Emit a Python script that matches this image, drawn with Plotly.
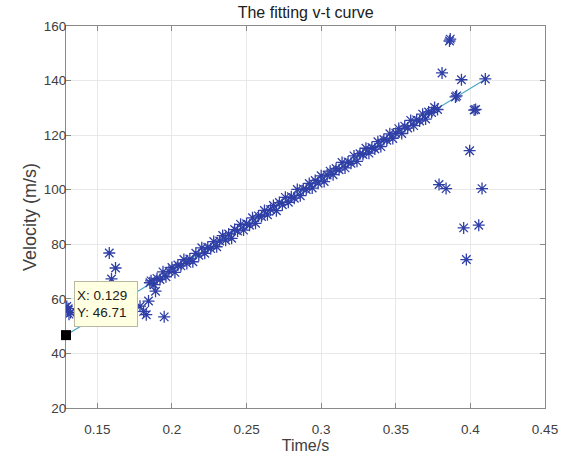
import plotly.graph_objects as go

# main band of measured points (time s, velocity m/s)
band_t = [0.186, 0.188, 0.190, 0.192, 0.194, 0.196, 0.198, 0.200, 0.202, 0.204,
          0.206, 0.208, 0.210, 0.212, 0.214, 0.216, 0.218, 0.220, 0.222, 0.224,
          0.226, 0.228, 0.230, 0.232, 0.234, 0.236, 0.238, 0.240, 0.242, 0.244,
          0.246, 0.248, 0.250, 0.252, 0.254, 0.256, 0.258, 0.260, 0.262, 0.264,
          0.266, 0.268, 0.270, 0.272, 0.274, 0.276, 0.278, 0.280, 0.282, 0.284,
          0.286, 0.288, 0.290, 0.292, 0.294, 0.296, 0.298, 0.300, 0.302, 0.304,
          0.306, 0.308, 0.310, 0.312, 0.314, 0.316, 0.318, 0.320, 0.322, 0.324,
          0.326, 0.328, 0.330, 0.332, 0.334, 0.336, 0.338, 0.340, 0.342, 0.344,
          0.346, 0.348, 0.350, 0.352, 0.354, 0.356, 0.358, 0.360, 0.362, 0.364,
          0.366, 0.368, 0.370, 0.372, 0.374, 0.376, 0.378]
band_v = [66.6, 65.2, 67.5, 67.1, 69.9, 68.1, 70.1, 71.5, 69.7, 72.4,
          72.1, 74.4, 73.0, 74.6, 73.6, 76.7, 76.0, 78.7, 76.7, 78.9,
          78.4, 81.0, 79.1, 81.2, 83.2, 81.5, 83.8, 82.2, 85.4, 84.9,
          87.3, 85.2, 87.5, 87.0, 89.7, 87.7, 90.4, 90.2, 92.4, 90.8,
          92.7, 94.2, 92.3, 95.3, 94.5, 97.2, 95.4, 97.4, 96.9, 100.1,
          97.8, 100.3, 100.1, 102.3, 100.6, 103.4, 102.4, 105.1, 103.0, 105.4,
          106.8, 105.5, 107.8, 107.3, 110.0, 108.0, 110.2, 109.7, 112.4, 110.4,
          113.2, 112.9, 115.2, 113.4, 115.5, 114.9, 117.6, 115.8, 118.4, 118.1,
          120.5, 118.8, 120.7, 122.4, 120.6, 123.3, 122.6, 125.4, 123.5, 125.6,
          125.2, 127.7, 125.9, 128.5, 128.3, 130.1, 129.4]

# scattered points at start and end
out_t = [0.1295, 0.1300, 0.1310, 0.1305, 0.1320,
         0.1580, 0.1622, 0.1595,
         0.1786, 0.1843, 0.1828, 0.1810, 0.1890, 0.1852, 0.1948,
         0.3860, 0.3865, 0.3810, 0.3940, 0.4100, 0.3900, 0.3908,
         0.4025, 0.4035, 0.3995, 0.3790, 0.3837, 0.4078, 0.3955,
         0.4056, 0.3973]
out_v = [57.2, 55.6, 54.4, 56.4, 55.0,
         76.8, 71.3, 67.3,
         57.3, 59.2, 54.2, 55.4, 62.8, 65.9, 53.4,
         154.5, 155.2, 142.8, 140.3, 140.6, 134.0, 134.4,
         129.2, 129.4, 114.3, 101.9, 100.4, 100.4, 86.0,
         87.0, 74.4]

# fitted line end points
fit_t = [0.129, 0.410]
fit_v = [46.71, 140.5]

tip_t = 0.129
tip_v = 46.71

x_ticks = [0.15, 0.2, 0.25, 0.3, 0.35, 0.4, 0.45]
x_tick_text = ["0.15", "0.2", "0.25", "0.3", "0.35", "0.4", "0.45"]
y_ticks = [20, 40, 60, 80, 100, 120, 140, 160]

star_color = "#2f3fa6"
font_fam = "Liberation Sans, Arial, sans-serif"

fig = go.Figure()
fig.add_trace(go.Scatter(
    x=fit_t, y=fit_v, mode="lines",
    line=dict(color="#4da6c9", width=1.2), hoverinfo="skip"))
fig.add_trace(go.Scatter(
    x=band_t + out_t, y=band_v + out_v, mode="markers",
    marker=dict(symbol="asterisk-open", size=10, color=star_color,
                line=dict(color=star_color, width=1.3)),
    hoverinfo="skip"))
fig.add_trace(go.Scatter(
    x=[tip_t], y=[tip_v], mode="markers", cliponaxis=False,
    marker=dict(symbol="square", size=10, color="black",
                line=dict(width=0)),
    hoverinfo="skip"))

fig.add_annotation(
    x=tip_t, y=tip_v, xref="x", yref="y",
    text="X: 0.129<br>Y: 46.71", showarrow=False,
    xanchor="left", yanchor="bottom", xshift=8, yshift=8,
    align="left", width=58, height=40, borderpad=2,
    bgcolor="#ffffe1", bordercolor="#b8b8a0", borderwidth=1,
    font=dict(family=font_fam, size=13.5, color="#202020"))

axis_common = dict(
    showgrid=True, gridcolor="#e8e8e8", gridwidth=1,
    showline=True, linecolor="#8a8a8a", linewidth=1, mirror="ticks",
    ticks="inside", ticklen=5, tickcolor="#8a8a8a", zeroline=False,
    layer="below traces", automargin=False,
    tickfont=dict(family=font_fam, size=13.5, color="#404040"))

fig.update_xaxes(range=[0.129, 0.45], tickvals=x_ticks, ticktext=x_tick_text,
                 ticklabelstandoff=9,
                 title=dict(text="Time/s", font=dict(family=font_fam, size=16, color="#404040"),
                            standoff=10),
                 **axis_common)
fig.update_yaxes(range=[20, 160], tickvals=y_ticks,
                 ticklabelstandoff=-4,
                 title=dict(text="Velocity (m/s)", font=dict(family=font_fam, size=18, color="#404040"),
                            standoff=2),
                 **axis_common)

fig.update_layout(
    width=563, height=454,
    margin=dict(l=66, r=18, t=26, b=46),
    paper_bgcolor="white", plot_bgcolor="white",
    showlegend=False,
    title=dict(text="The fitting v-t curve", x=0.543, xanchor="center",
               y=0.972, yanchor="middle",
               font=dict(family=font_fam, size=16, color="#202020")),
)

fig.write_html("out.html", config={"displayModeBar": False},
               post_script="document.body.style.margin='0px';")
